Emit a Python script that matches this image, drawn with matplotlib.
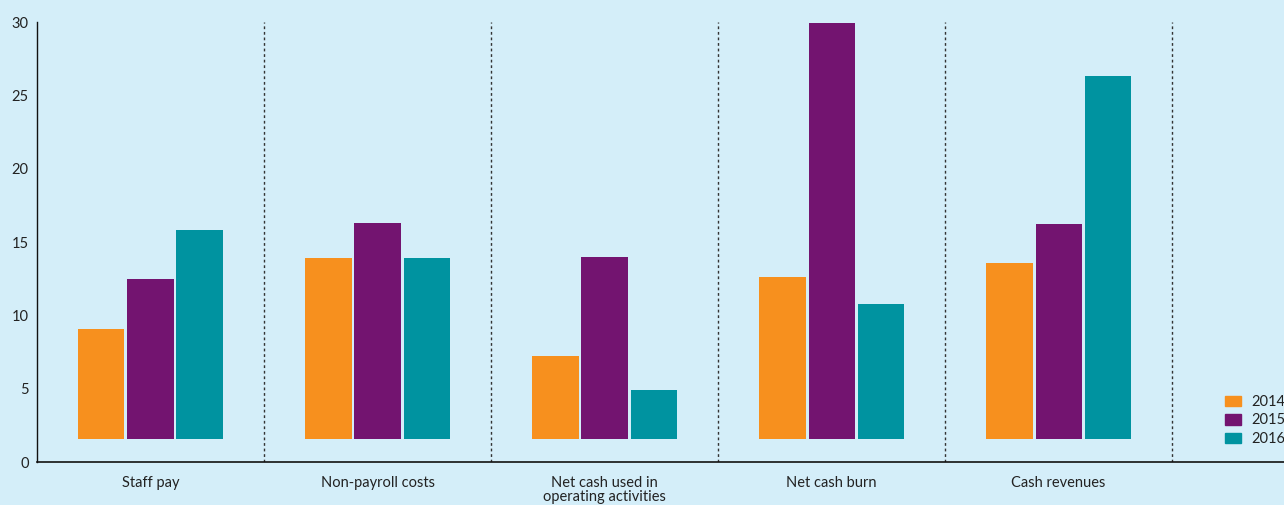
import numpy as np
import matplotlib.pyplot as plt
from matplotlib.patches import Patch

categories = ["Staff pay", "Non-payroll costs", "Net cash used in\noperating activities",
              "Net cash burn", "Cash revenues"]
years = ["2014", "2015", "2016"]
vals_2014 = [9.1, 13.9, 7.2, 12.6, 13.6]
vals_2015 = [12.5, 16.3, 14.0, 29.9, 16.2]
vals_2016 = [15.8, 13.9, 4.9, 10.8, 26.3]

colors = ["#F7901E", "#731470", "#0093A0"]
bg = "#D4EEF9"
base = 1.55

plt.rcParams['font.family'] = ['Lato', 'DejaVu Sans']

fig = plt.figure(figsize=(12.84, 5.05), dpi=100, facecolor=bg)
ax = fig.add_axes([0.0288, 0.0851, 0.9712, 0.8713])
ax.set_facecolor(bg)

x = np.arange(len(categories))
w = 0.203
step = 0.216
for i, series in enumerate([vals_2014, vals_2015, vals_2016]):
    h = np.array(series) - base
    ax.bar(x + (i - 1) * step, h, w, bottom=base, color=colors[i], label=years[i])

for s in np.arange(len(categories)) + 0.5:
    ax.axvline(s, color="#333333", lw=1, ls=(0, (2, 2)))

ax.set_xlim(-0.5, 4.993)
ax.set_ylim(0, 30)
ax.set_yticks(range(0, 31, 5))
ax.set_xticks(x)
ax.set_xticklabels(categories, color="#222222", fontsize=10.5, va="top", linespacing=1.05)
ax.tick_params(axis="both", length=0, colors="#222222", labelsize=10.5)
ax.tick_params(axis="x", pad=10)
ax.tick_params(axis="y", pad=6)

for sp in ["top", "right"]:
    ax.spines[sp].set_visible(False)
ax.spines["left"].set_color("#111111")
ax.spines["bottom"].set_color("#111111")
ax.spines["left"].set_linewidth(1)
ax.spines["bottom"].set_linewidth(1.2)

handles = [Patch(color=colors[i], label=years[i]) for i in range(3)]
fig.legend(handles=handles, loc="upper left", bbox_to_anchor=(1212 / 1284, 1 - 382 / 505),
           frameon=False, fontsize=10.5, handlelength=1.1, handleheight=0.7,
           handletextpad=0.7, labelspacing=0.3, labelcolor="#222222")

fig.savefig("out.png", dpi=100, facecolor=bg)
